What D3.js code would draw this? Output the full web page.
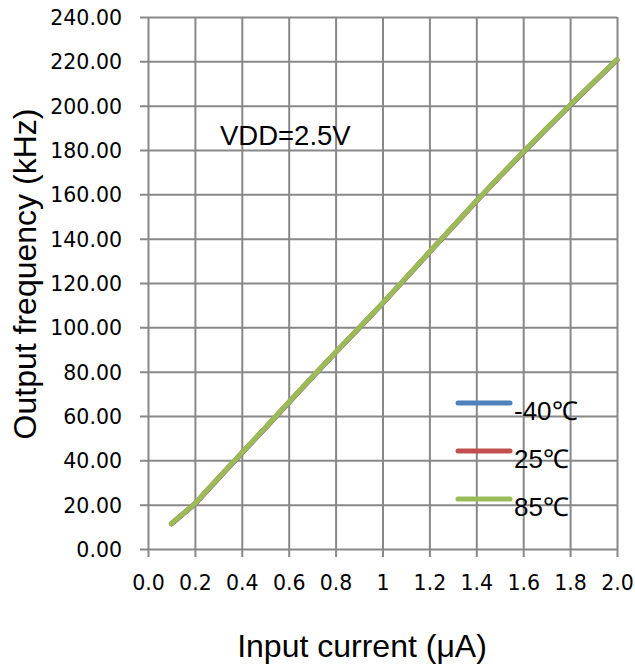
<!DOCTYPE html>
<html>
<head>
<meta charset="utf-8">
<script src="https://cdn.jsdelivr.net/npm/d3@7"></script>
<style>
  body { margin: 0; background: #fff; }
  svg { display: block; }
</style>
</head>
<body>
<svg id="chart" width="635" height="668"></svg>
<script>
// input current (uA)
var current = [0.1, 0.2, 0.3, 0.4, 0.5, 0.6, 0.7, 0.8, 0.9, 1.0,
               1.1, 1.2, 1.3, 1.4, 1.5, 1.6, 1.7, 1.8, 1.9, 2.0];

// output frequency (kHz) per temperature
var freqM40 = [11.3, 20.3, 31.8, 43.2, 54.5, 66.0, 77.4, 88.6, 99.6, 110.7,
               122.2, 133.8, 145.3, 156.8, 168.0, 178.9, 189.6, 200.1, 210.4, 220.6];
var freq25  = [11.4, 20.4, 31.9, 43.3, 54.6, 66.1, 77.5, 88.7, 99.7, 110.8,
               122.3, 133.9, 145.4, 156.9, 168.1, 179.0, 189.7, 200.2, 210.5, 220.7];
var freq85  = [11.5, 20.5, 32.0, 43.4, 54.7, 66.2, 77.6, 88.8, 99.8, 110.9,
               122.4, 134.0, 145.5, 157.0, 168.2, 179.1, 189.8, 200.3, 210.6, 220.8];

var seriesNames = ["-40\u2103", "25\u2103", "85\u2103"];
var seriesColors = ["#4F81BD", "#C0504D", "#9BBB59"];

var xTicks = [0.0, 0.2, 0.4, 0.6, 0.8, 1.0, 1.2, 1.4, 1.6, 1.8, 2.0];
var xTickLabels = ["0.0", "0.2", "0.4", "0.6", "0.8", "1", "1.2", "1.4", "1.6", "1.8", "2.0"];
var yTicks = d3.range(0, 241, 20);

var svg = d3.select("#chart");

// plot box (pixels)
var plotL = 148, plotR = 617, plotT = 17, plotB = 549;

var x = d3.scaleLinear().domain([0, 2]).range([plotL, plotR]);
var y = d3.scaleLinear().domain([0, 240]).range([plotB, plotT]);

var gridColor = "#888888";
var tickFont = "'DejaVu Sans', sans-serif";
var textFont = "'Liberation Sans', Arial, sans-serif";

// horizontal grid + outer ticks + labels
var yAxis = d3.axisLeft(y)
    .tickValues(yTicks)
    .tickSizeInner(-(plotR - plotL))
    .tickSizeOuter(0)
    .tickFormat(d3.format(".2f"));

var gy = svg.append("g")
    .attr("transform", `translate(${plotL},0)`)
    .call(yAxis);
gy.select(".domain").remove();
gy.selectAll(".tick line")
    .attr("x1", -8)
    .attr("stroke", gridColor)
    .attr("stroke-width", 2);
gy.selectAll(".tick text")
    .attr("x", -26)
    .attr("dy", "0.36em")
    .attr("font-family", tickFont)
    .attr("font-size", 20.5)
    .attr("fill", "#000");

// vertical grid + outer ticks + labels
var xAxis = d3.axisBottom(x)
    .tickValues(xTicks)
    .tickSizeInner(-(plotB - plotT))
    .tickSizeOuter(0)
    .tickFormat((d, i) => xTickLabels[i]);

var gx = svg.append("g")
    .attr("transform", `translate(0,${plotB})`)
    .call(xAxis);
gx.select(".domain").remove();
gx.selectAll(".tick line")
    .attr("y1", 8)
    .attr("stroke", gridColor)
    .attr("stroke-width", 2);
gx.selectAll(".tick text")
    .attr("y", 41)
    .attr("dy", null)
    .attr("font-family", tickFont)
    .attr("font-size", 20.5)
    .attr("fill", "#000");

// series lines
var line = d3.line()
    .x((d, i) => x(current[i]))
    .y(d => y(d));

[freqM40, freq25, freq85].forEach(function (vals, i) {
    svg.append("path")
        .datum(vals)
        .attr("d", line)
        .attr("fill", "none")
        .attr("stroke", seriesColors[i])
        .attr("stroke-width", 5)
        .attr("stroke-linecap", "round")
        .attr("stroke-linejoin", "round");
});

// legend
var legend = svg.append("g");
seriesNames.forEach(function (name, i) {
    var ly = 403 + i * 48;
    legend.append("line")
        .attr("x1", 458).attr("x2", 510)
        .attr("y1", ly).attr("y2", ly)
        .attr("stroke", seriesColors[i])
        .attr("stroke-width", 5)
        .attr("stroke-linecap", "round");
    legend.append("text")
        .attr("x", 514)
        .attr("y", ly + 17)
        .attr("font-family", textFont)
        .attr("font-size", 26)
        .text(name);
});

// annotation
svg.append("text")
    .attr("x", 220)
    .attr("y", 145)
    .attr("font-family", textFont)
    .attr("font-size", 27.5)
    .text("VDD=2.5V");

// axis titles
svg.append("text")
    .attr("x", 362)
    .attr("y", 657)
    .attr("text-anchor", "middle")
    .attr("font-family", textFont)
    .attr("font-size", 32)
    .text("Input current (\u03bcA)");

svg.append("text")
    .attr("transform", "translate(36,274) rotate(-90)")
    .attr("text-anchor", "middle")
    .attr("font-family", textFont)
    .attr("font-size", 32)
    .text("Output frequency (kHz)");
</script>
</body>
</html>
